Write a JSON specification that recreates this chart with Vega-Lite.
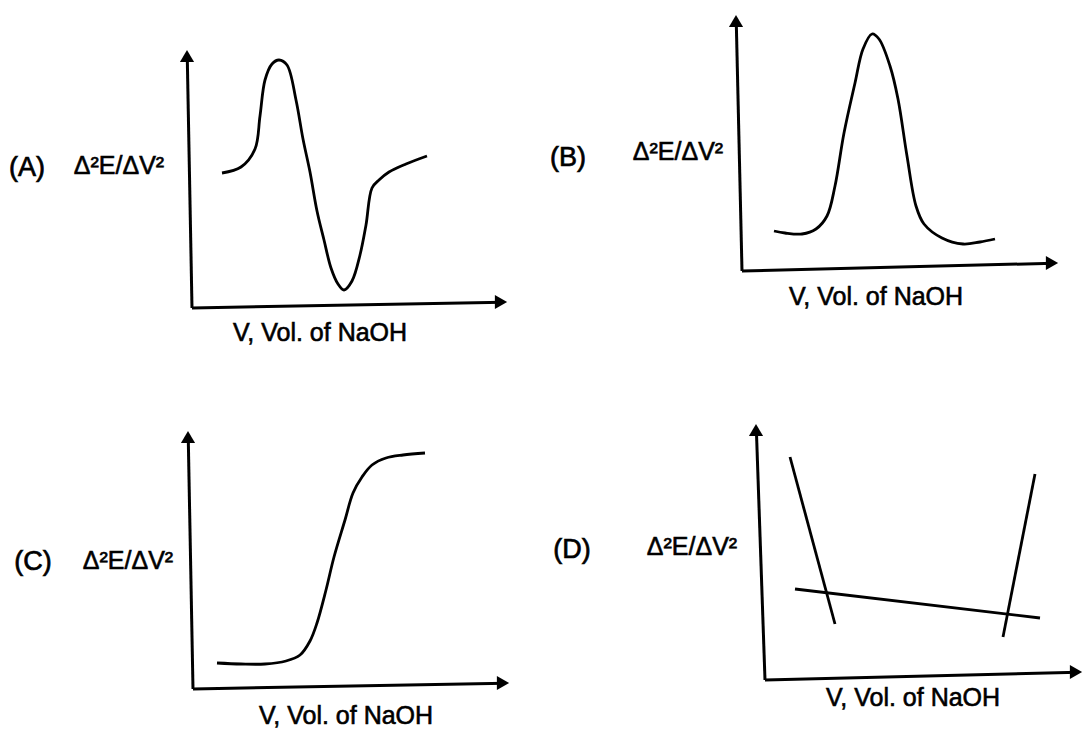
{
  "$schema": "https://vega.github.io/schema/vega-lite/v6.json",
  "width": 1089,
  "height": 733,
  "autosize": {"type": "fit", "contains": "padding"},
  "padding": 0,
  "background": "white",
  "config": {"view": {"stroke": null}},
  "datasets": {
    "axes": [
      {"s": "A_y", "i": 0, "x": 187.2, "y": 54}, {"s": "A_y", "i": 1, "x": 192, "y": 308},
      {"s": "A_x", "i": 0, "x": 192, "y": 308}, {"s": "A_x", "i": 1, "x": 503, "y": 302.2},
      {"s": "B_y", "i": 0, "x": 736.2, "y": 19}, {"s": "B_y", "i": 1, "x": 742, "y": 271},
      {"s": "B_x", "i": 0, "x": 742, "y": 271}, {"s": "B_x", "i": 1, "x": 1054, "y": 263.2},
      {"s": "C_y", "i": 0, "x": 188.2, "y": 435}, {"s": "C_y", "i": 1, "x": 193, "y": 689},
      {"s": "C_x", "i": 0, "x": 193, "y": 689}, {"s": "C_x", "i": 1, "x": 505, "y": 683.2},
      {"s": "D_y", "i": 0, "x": 756.3, "y": 428}, {"s": "D_y", "i": 1, "x": 765, "y": 680},
      {"s": "D_x", "i": 0, "x": 765, "y": 680}, {"s": "D_x", "i": 1, "x": 1078, "y": 672.2}
    ],
    "arrows": [
      {"dir": "up", "x": 187, "y": 56}, {"dir": "right", "x": 501, "y": 302},
      {"dir": "up", "x": 736, "y": 21}, {"dir": "right", "x": 1052, "y": 263},
      {"dir": "up", "x": 188, "y": 437}, {"dir": "right", "x": 503, "y": 683},
      {"dir": "up", "x": 756, "y": 430}, {"dir": "right", "x": 1076, "y": 672}
    ],
    "curves": [
      {"s": "A", "i": 0, "x": 222, "y": 173}, {"s": "A", "i": 1, "x": 241, "y": 167},
      {"s": "A", "i": 2, "x": 255, "y": 149}, {"s": "A", "i": 3, "x": 260, "y": 116},
      {"s": "A", "i": 4, "x": 265, "y": 80}, {"s": "A", "i": 5, "x": 272, "y": 64},
      {"s": "A", "i": 6, "x": 279, "y": 60}, {"s": "A", "i": 7, "x": 287, "y": 65},
      {"s": "A", "i": 8, "x": 296, "y": 100}, {"s": "A", "i": 9, "x": 303, "y": 139},
      {"s": "A", "i": 10, "x": 310, "y": 172}, {"s": "A", "i": 11, "x": 317, "y": 211},
      {"s": "A", "i": 12, "x": 324, "y": 240}, {"s": "A", "i": 13, "x": 331, "y": 268},
      {"s": "A", "i": 14, "x": 338, "y": 284}, {"s": "A", "i": 15, "x": 344, "y": 290},
      {"s": "A", "i": 16, "x": 352, "y": 281}, {"s": "A", "i": 17, "x": 360, "y": 255},
      {"s": "A", "i": 18, "x": 366, "y": 225}, {"s": "A", "i": 19, "x": 372, "y": 188},
      {"s": "A", "i": 20, "x": 379, "y": 180}, {"s": "A", "i": 21, "x": 389, "y": 172},
      {"s": "A", "i": 22, "x": 406, "y": 164}, {"s": "A", "i": 23, "x": 427, "y": 156},
      {"s": "B", "i": 0, "x": 774, "y": 231}, {"s": "B", "i": 1, "x": 785, "y": 233},
      {"s": "B", "i": 2, "x": 802, "y": 234}, {"s": "B", "i": 3, "x": 816, "y": 229},
      {"s": "B", "i": 4, "x": 827, "y": 216}, {"s": "B", "i": 5, "x": 835, "y": 186},
      {"s": "B", "i": 6, "x": 844, "y": 133}, {"s": "B", "i": 7, "x": 855, "y": 83},
      {"s": "B", "i": 8, "x": 863, "y": 49}, {"s": "B", "i": 9, "x": 872, "y": 34},
      {"s": "B", "i": 10, "x": 879, "y": 39}, {"s": "B", "i": 11, "x": 890, "y": 66},
      {"s": "B", "i": 12, "x": 898, "y": 99}, {"s": "B", "i": 13, "x": 907, "y": 156},
      {"s": "B", "i": 14, "x": 916, "y": 206}, {"s": "B", "i": 15, "x": 924, "y": 224},
      {"s": "B", "i": 16, "x": 942, "y": 238}, {"s": "B", "i": 17, "x": 963, "y": 244},
      {"s": "B", "i": 18, "x": 980, "y": 242}, {"s": "B", "i": 19, "x": 995, "y": 239},
      {"s": "C", "i": 0, "x": 217, "y": 663}, {"s": "C", "i": 1, "x": 241, "y": 664},
      {"s": "C", "i": 2, "x": 265, "y": 664}, {"s": "C", "i": 3, "x": 286, "y": 661},
      {"s": "C", "i": 4, "x": 300, "y": 655}, {"s": "C", "i": 5, "x": 310, "y": 641},
      {"s": "C", "i": 6, "x": 317, "y": 623}, {"s": "C", "i": 7, "x": 326, "y": 590},
      {"s": "C", "i": 8, "x": 334, "y": 557}, {"s": "C", "i": 9, "x": 345, "y": 520},
      {"s": "C", "i": 10, "x": 353, "y": 493}, {"s": "C", "i": 11, "x": 362, "y": 477},
      {"s": "C", "i": 12, "x": 372, "y": 465}, {"s": "C", "i": 13, "x": 386, "y": 458},
      {"s": "C", "i": 14, "x": 403, "y": 455}, {"s": "C", "i": 15, "x": 425, "y": 453}
    ],
    "straight": [
      {"s": "D1", "i": 0, "x": 790, "y": 457}, {"s": "D1", "i": 1, "x": 835, "y": 624},
      {"s": "D2", "i": 0, "x": 1035, "y": 474}, {"s": "D2", "i": 1, "x": 1003, "y": 637},
      {"s": "D3", "i": 0, "x": 795, "y": 589}, {"s": "D3", "i": 1, "x": 1040, "y": 618}
    ],
    "labels": [
      {"role": "panel", "t": "(A)", "x": 27, "y": 168},
      {"role": "ylab", "t": "Δ²E/ΔV²", "x": 119, "y": 166},
      {"role": "xlab", "t": "V, Vol. of NaOH", "x": 320, "y": 333},
      {"role": "panel", "t": "(B)", "x": 568, "y": 158},
      {"role": "ylab", "t": "Δ²E/ΔV²", "x": 678, "y": 152},
      {"role": "xlab", "t": "V, Vol. of NaOH", "x": 876, "y": 297},
      {"role": "panel", "t": "(C)", "x": 33, "y": 562},
      {"role": "ylab", "t": "Δ²E/ΔV²", "x": 128, "y": 561},
      {"role": "xlab", "t": "V, Vol. of NaOH", "x": 346, "y": 716},
      {"role": "panel", "t": "(D)", "x": 572, "y": 550},
      {"role": "ylab", "t": "Δ²E/ΔV²", "x": 692, "y": 547},
      {"role": "xlab", "t": "V, Vol. of NaOH", "x": 913, "y": 698}
    ]
  },
  "encoding": {
    "x": {"field": "x", "type": "quantitative", "scale": {"domain": [0, 1089], "nice": false, "zero": false}, "axis": null},
    "y": {"field": "y", "type": "quantitative", "scale": {"domain": [0, 733], "nice": false, "zero": false, "reverse": true}, "axis": null}
  },
  "layer": [
    {
      "data": {"name": "axes"},
      "mark": {"type": "line", "color": "black", "strokeWidth": 3, "strokeCap": "butt", "clip": false},
      "encoding": {"detail": {"field": "s"}, "order": {"field": "i", "type": "quantitative"}}
    },
    {
      "data": {"name": "arrows"},
      "transform": [{"filter": "datum.dir === 'up'"}],
      "mark": {"type": "point", "shape": "triangle-up", "filled": true, "color": "black", "opacity": 1, "size": 200, "clip": false}
    },
    {
      "data": {"name": "arrows"},
      "transform": [{"filter": "datum.dir === 'right'"}],
      "mark": {"type": "point", "shape": "triangle-right", "filled": true, "color": "black", "opacity": 1, "size": 200, "clip": false}
    },
    {
      "data": {"name": "curves"},
      "mark": {"type": "line", "color": "black", "strokeWidth": 2.8, "interpolate": "catmull-rom", "clip": false},
      "encoding": {"detail": {"field": "s"}, "order": {"field": "i", "type": "quantitative"}}
    },
    {
      "data": {"name": "straight"},
      "mark": {"type": "line", "color": "black", "strokeWidth": 2.8, "clip": false},
      "encoding": {"detail": {"field": "s"}, "order": {"field": "i", "type": "quantitative"}}
    },
    {
      "data": {"name": "labels"},
      "transform": [{"filter": "datum.role === 'panel'"}],
      "mark": {"type": "text", "font": "Liberation Sans", "fontSize": 27, "color": "black", "stroke": "black", "strokeWidth": 0.7, "align": "center", "baseline": "middle"},
      "encoding": {"text": {"field": "t"}}
    },
    {
      "data": {"name": "labels"},
      "transform": [{"filter": "datum.role === 'ylab'"}],
      "mark": {"type": "text", "font": "Liberation Sans", "fontSize": 25, "color": "black", "stroke": "black", "strokeWidth": 0.6, "align": "center", "baseline": "middle"},
      "encoding": {"text": {"field": "t"}}
    },
    {
      "data": {"name": "labels"},
      "transform": [{"filter": "datum.role === 'xlab'"}],
      "mark": {"type": "text", "font": "Liberation Sans", "fontSize": 25, "color": "black", "stroke": "black", "strokeWidth": 0.6, "align": "center", "baseline": "middle"},
      "encoding": {"text": {"field": "t"}}
    }
  ]
}
